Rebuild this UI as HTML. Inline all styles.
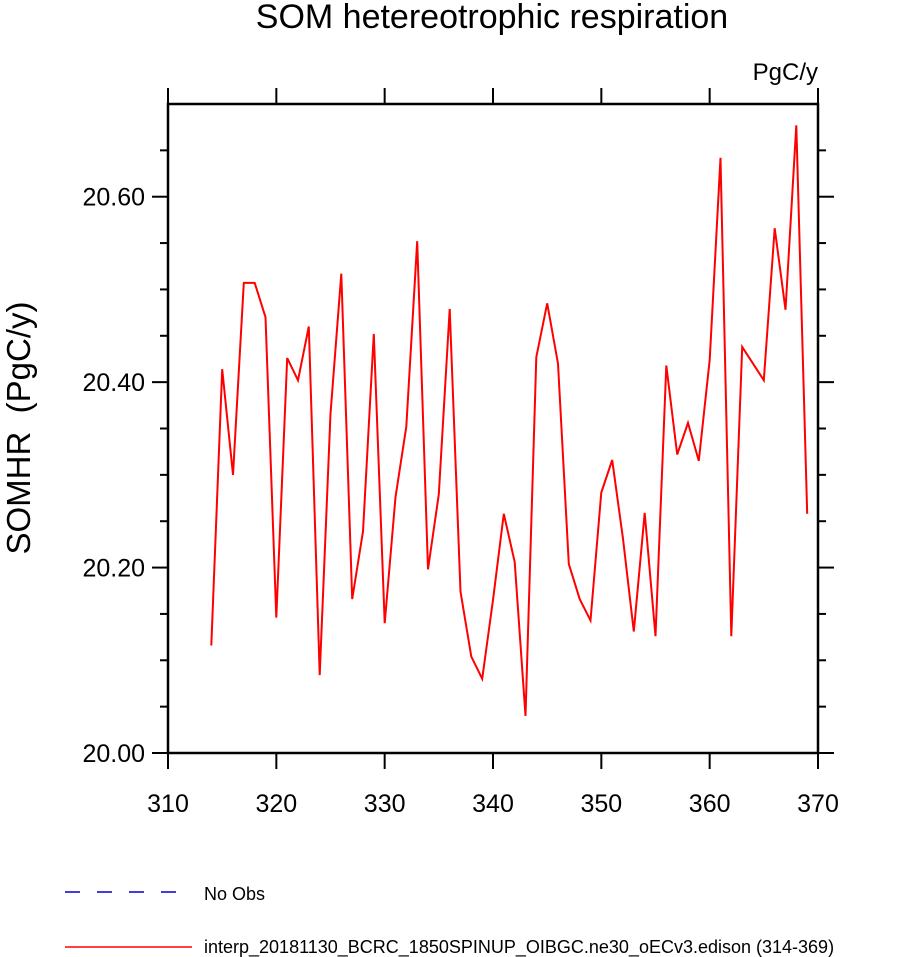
<!DOCTYPE html>
<html><head><meta charset="utf-8"><style>
body{margin:0;background:#fff;}
svg{display:block;font-family:"Liberation Sans",Arial,sans-serif;}
</style></head><body>
<svg id="chart" width="915" height="957" viewBox="0 0 915 957">
<text x="492" y="28" text-anchor="middle" font-size="34">SOM hetereotrophic respiration</text>
<text x="818" y="80" text-anchor="end" font-size="24">PgC/y</text>
<text transform="translate(30,428) rotate(-90)" text-anchor="middle" font-size="33" xml:space="preserve" style="white-space:pre">SOMHR  (PgC/y)</text>
<g id="axes"></g>
<polyline id="series" fill="none" stroke="#ff0000" stroke-width="2"/>
<rect x="168" y="104" width="650" height="649" fill="none" stroke="#000" stroke-width="2.5"/>
<g>
<line x1="65" y1="892" x2="180" y2="892" stroke="#0000cc" stroke-width="1.5" stroke-dasharray="15,17"/>
<text x="204" y="900" font-size="18">No Obs</text>
<line x1="65" y1="947" x2="192" y2="947" stroke="#ff0000" stroke-width="1.5"/>
<text x="204" y="953" font-size="18">interp_20181130_BCRC_1850SPINUP_OIBGC.ne30_oECv3.edison (314-369)</text>
</g>
</svg>
<script>
const years=[314,315,316,317,318,319,320,321,322,323,324,325,326,327,328,329,330,331,332,333,334,335,336,337,338,339,340,341,342,343,344,345,346,347,348,349,350,351,352,353,354,355,356,357,358,359,360,361,362,363,364,365,366,367,368,369];
const somhr=[20.116,20.414,20.30,20.507,20.507,20.47,20.146,20.426,20.402,20.46,20.084,20.366,20.517,20.166,20.239,20.452,20.14,20.276,20.352,20.552,20.198,20.279,20.479,20.174,20.104,20.08,20.165,20.258,20.206,20.04,20.427,20.485,20.42,20.204,20.166,20.143,20.281,20.316,20.231,20.131,20.259,20.126,20.418,20.322,20.356,20.315,20.424,20.642,20.126,20.438,20.42,20.402,20.566,20.478,20.677,20.258];
const xTicks=[310,320,330,340,350,360,370];
const yTicks=[20.00,20.20,20.40,20.60];
const yMinor=[20.05,20.10,20.15,20.25,20.30,20.35,20.45,20.50,20.55,20.65];
const X0=168,X1=818,Y0=753,Y1=104;
const xs=v=>X0+(v-310)/60*(X1-X0);
const ys=v=>Y0-(v-20.0)/0.7*(Y0-Y1);
const NS="http://www.w3.org/2000/svg";
const g=document.getElementById('axes');
function ln(x1,y1,x2,y2,name){const l=document.createElementNS(NS,'line');l.setAttribute('x1',x1);l.setAttribute('y1',y1);l.setAttribute('x2',x2);l.setAttribute('y2',y2);l.setAttribute('stroke','#000');l.setAttribute('stroke-width','2');


g.appendChild(l);}
function tx(x,y,s,anchor,name){const t=document.createElementNS(NS,'text');t.setAttribute('x',x);t.setAttribute('y',y);t.setAttribute('text-anchor',anchor);t.setAttribute('font-size','25');t.textContent=s;


g.appendChild(t);}
xTicks.forEach(v=>{const x=xs(v);ln(x,Y0,x,Y0+16,'x-tick');ln(x,Y1,x,Y1-16,'x-tick-top');tx(x,812,String(v),'middle','x-tick-label');});
yTicks.forEach(v=>{const y=ys(v);ln(X0-16,y,X0,y,'y-tick');ln(X1,y,X1+16,y,'y-tick-right');tx(X0-23,y+9,v.toFixed(2),'end','y-tick-label');});
yMinor.forEach(v=>{const y=ys(v);ln(X0-8,y,X0,y,'y-minor-tick');ln(X1,y,X1+8,y,'y-minor-tick-right');});
document.getElementById('series').setAttribute('points',years.map((yr,i)=>xs(yr).toFixed(1)+','+ys(somhr[i]).toFixed(1)).join(' '));
</script>
</body></html>
